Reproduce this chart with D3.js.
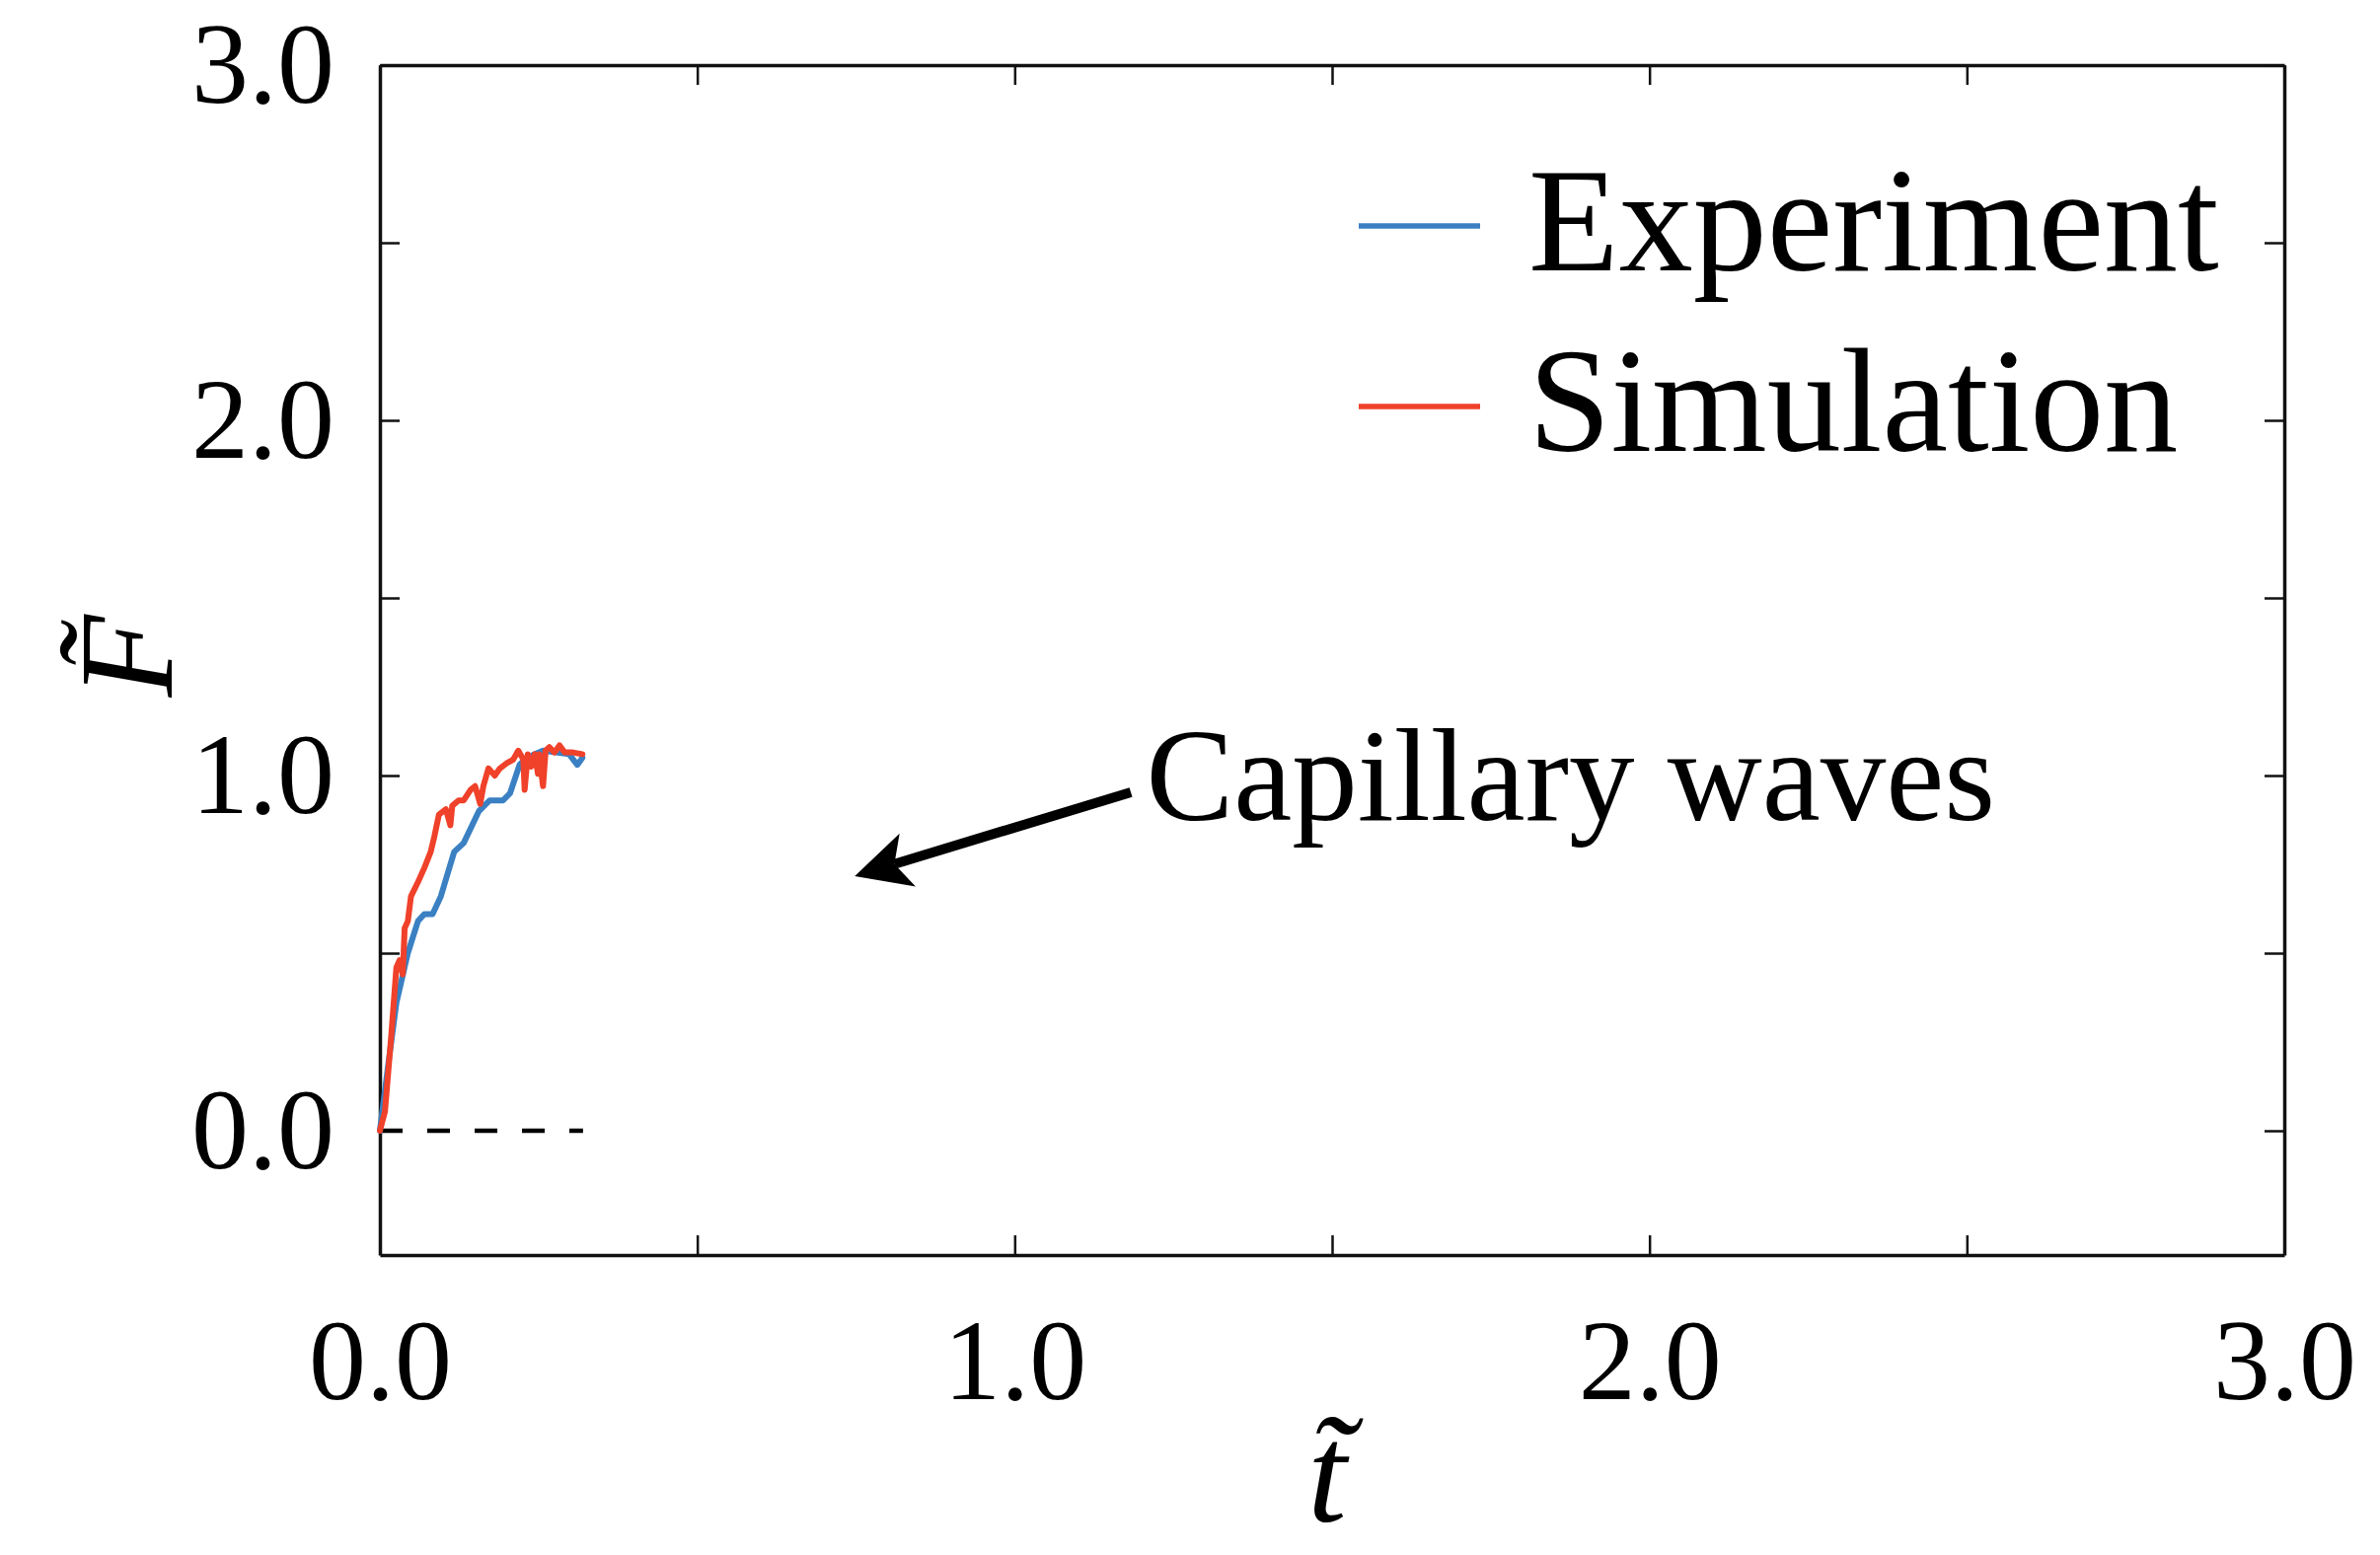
<!DOCTYPE html>
<html>
<head>
<meta charset="utf-8">
<script src="https://cdn.jsdelivr.net/npm/d3@7"></script>
<style>
  html, body { margin: 0; padding: 0; background: #fff; }
  svg { display: block; }
  text { font-family: "Liberation Serif", "DejaVu Serif", serif; fill: #000; }
</style>
</head>
<body>
<svg id="chart"></svg>
<script>
// Experiment curve (t~, F~)
const expT = [0, 0.012, 0.026, 0.044, 0.060, 0.070, 0.083, 0.096, 0.117, 0.132, 0.156, 0.173, 0.194, 0.205, 0.220, 0.231, 0.257, 0.298, 0.311, 0.319]
const expF = [0, 0.17, 0.36, 0.50, 0.59, 0.61, 0.61, 0.66, 0.785, 0.81, 0.90, 0.93, 0.93, 0.95, 1.03, 1.05, 1.07, 1.06, 1.03, 1.05]

// Simulation curve (t~, F~)
const simT = [0, 0.008, 0.018, 0.026, 0.031, 0.036, 0.039, 0.044, 0.049, 0.060, 0.070, 0.080, 0.086, 0.093, 0.104, 0.111, 0.114, 0.124, 0.132, 0.143, 0.150, 0.158, 0.163, 0.171, 0.181, 0.189, 0.200, 0.210, 0.218, 0.226, 0.228, 0.233, 0.238, 0.244, 0.249, 0.251, 0.257, 0.261, 0.267, 0.275, 0.283, 0.291, 0.304, 0.319]
const simF = [0, 0.054, 0.27, 0.46, 0.48, 0.44, 0.57, 0.59, 0.66, 0.70, 0.74, 0.785, 0.83, 0.89, 0.905, 0.86, 0.915, 0.93, 0.93, 0.96, 0.97, 0.92, 0.97, 1.02, 1.00, 1.02, 1.035, 1.045, 1.07, 1.045, 0.96, 1.06, 1.025, 1.06, 1.005, 1.06, 0.97, 1.07, 1.08, 1.065, 1.085, 1.065, 1.065, 1.06]

// dashed zero reference
const zeroT = [0, 0.32]
const zeroF = [0, 0]

const tickVals = [0, 0.5, 1.0, 1.5, 2.0, 2.5, 3.0]
const xLabels = [0, 1, 2, 3]
const yLabels = [0, 1, 2, 3]

const seriesNames = ["Experiment", "Simulation"]
const seriesColors = ["#3a80c2", "#f0412a"]

// annotation: arrow tail / tip and text anchor, in data units
const note = { text: "Capillary waves", tail: [1.183, 0.953], tip: [0.748, 0.717], at: [1.207, 0.875] }

const W = 2412, H = 1576
const margin = { top: 66, right: 97, bottom: 304, left: 385 }
const width = W - margin.left - margin.right
const height = H - margin.top - margin.bottom

const svg = d3.select("#chart").attr("width", W).attr("height", H)
const g = svg.append("g").attr("transform", `translate(${margin.left},${margin.top})`)

const x = d3.scaleLinear().domain([0, 3]).range([0, width])
const y = d3.scaleLinear().domain([-0.35, 3.0]).range([height, 0])

const fmt = d => (yLabels.includes(d) ? d.toFixed(1) : "")

// axes, ticks pointing inward on all four sides
const styleAxis = sel => {
  sel.select(".domain").attr("stroke", "#111").attr("stroke-width", 3.5)
  sel.selectAll(".tick line").attr("stroke", "#111").attr("stroke-width", 2.5)
  sel.selectAll(".tick text").attr("font-family", "Liberation Serif").attr("font-size", 116).attr("fill", "#000")
}

g.append("g")
  .attr("transform", `translate(0,${height})`)
  .call(d3.axisBottom(x).tickValues(tickVals).tickSizeInner(-20).tickSizeOuter(0).tickPadding(64)
    .tickFormat(d => (xLabels.includes(d) ? d.toFixed(1) : "")))
  .call(styleAxis)

g.append("g")
  .call(d3.axisTop(x).tickValues(tickVals).tickSizeInner(-20).tickSizeOuter(0).tickFormat(""))
  .call(styleAxis)

g.append("g")
  .call(d3.axisLeft(y).tickValues(tickVals).tickSizeInner(-20).tickSizeOuter(0).tickPadding(46).tickFormat(fmt))
  .call(styleAxis)

g.append("g")
  .attr("transform", `translate(${width},0)`)
  .call(d3.axisRight(y).tickValues(tickVals).tickSizeInner(-20).tickSizeOuter(0).tickFormat(""))
  .call(styleAxis)

// dashed zero line
g.append("path")
  .datum(zeroT.map((t, i) => [t, zeroF[i]]))
  .attr("fill", "none")
  .attr("stroke", "#000")
  .attr("stroke-width", 4.5)
  .attr("stroke-dasharray", "23 25")
  .attr("d", d3.line().x(d => x(d[0])).y(d => y(d[1])))

const line = d3.line().x(d => x(d[0])).y(d => y(d[1]))

const curves = [
  expT.map((t, i) => [t, expF[i]]),
  simT.map((t, i) => [t, simF[i]])
]

g.selectAll(".curve")
  .data(curves)
  .enter()
  .append("path")
  .attr("class", "curve")
  .attr("fill", "none")
  .attr("stroke", (d, i) => seriesColors[i])
  .attr("stroke-width", 6)
  .attr("stroke-linejoin", "round")
  .attr("stroke-linecap", "round")
  .attr("d", line)

// legend
const legend = g.append("g")
seriesNames.forEach((name, i) => {
  const ly = 163 + i * 183
  legend.append("line")
    .attr("x1", 992).attr("x2", 1115)
    .attr("y1", ly).attr("y2", ly)
    .attr("stroke", seriesColors[i])
    .attr("stroke-width", 5.5)
  legend.append("text")
    .attr("x", 1164)
    .attr("y", ly + 45)
    .attr("font-size", 150)
    .text(name)
})

// annotation arrow
const [tx, ty] = [x(note.tail[0]), y(note.tail[1])]
const [px, py] = [x(note.tip[0]), y(note.tip[1])]
const len = Math.hypot(tx - px, ty - py)
const ux = (tx - px) / len, uy = (ty - py) / len
const nx = -uy, ny = ux
const headLen = 56, headHalf = 28, notch = 42

g.append("line")
  .attr("x1", tx).attr("y1", ty)
  .attr("x2", px + ux * notch).attr("y2", py + uy * notch)
  .attr("stroke", "#000")
  .attr("stroke-width", 10)

g.append("path")
  .attr("fill", "#000")
  .attr("d", `M${px},${py}`
    + `L${px + ux * headLen + nx * headHalf},${py + uy * headLen + ny * headHalf}`
    + `L${px + ux * notch},${py + uy * notch}`
    + `L${px + ux * headLen - nx * headHalf},${py + uy * headLen - ny * headHalf}Z`)

g.append("text")
  .attr("x", x(note.at[0]))
  .attr("y", y(note.at[1]))
  .attr("font-size", 133)
  .text(note.text)

// axis titles (combining tilde)
svg.append("text")
  .attr("x", 1345).attr("y", 1542)
  .attr("text-anchor", "middle")
  .attr("font-style", "italic")
  .attr("font-size", 142)
  .text("t\u0303")

svg.append("text")
  .attr("transform", "translate(174,665) rotate(-90)")
  .attr("text-anchor", "middle")
  .attr("font-style", "italic")
  .attr("font-size", 136)
  .text("F\u0303")
</script>
</body>
</html>
